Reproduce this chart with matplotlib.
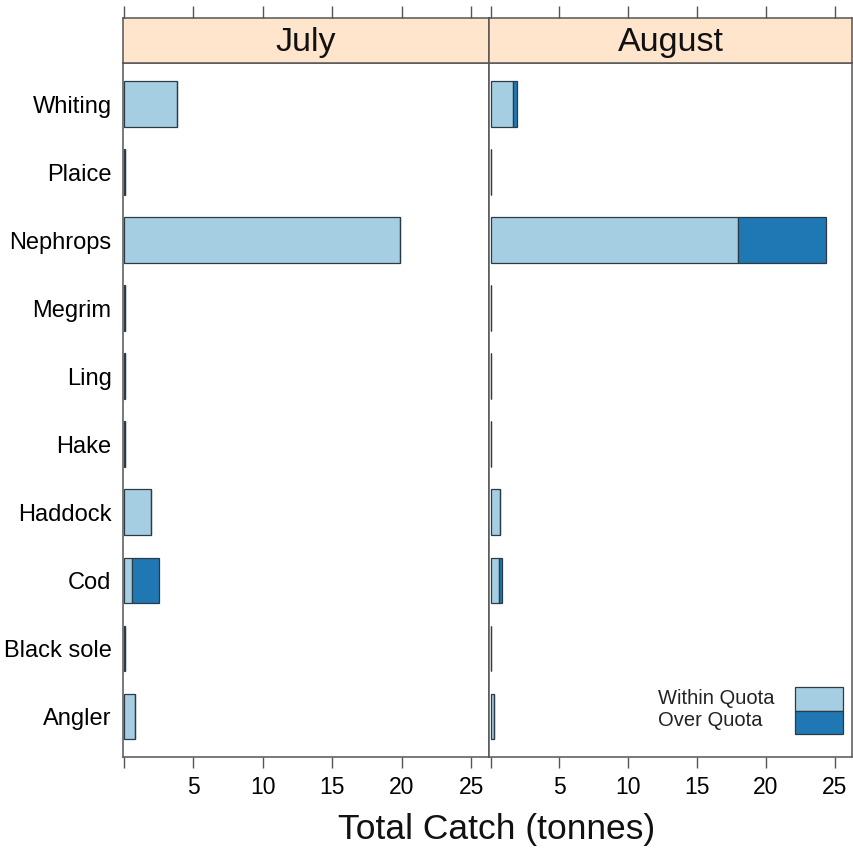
import matplotlib
matplotlib.use("Agg")
import matplotlib.pyplot as plt
from matplotlib.patches import Rectangle

plt.rcParams['font.family'] = ['Liberation Sans', 'DejaVu Sans']

species = ["Angler", "Black sole", "Cod", "Haddock", "Hake", "Ling",
           "Megrim", "Nephrops", "Plaice", "Whiting"]
months = ["July", "August"]
within_july = [0.8, 0.05, 0.6, 1.95, 0.05, 0.05, 0.05, 19.9, 0.05, 3.85]
over_july = [0, 0, 1.95, 0, 0, 0, 0, 0, 0, 0]
within_aug = [0.25, 0.05, 0.65, 0.7, 0.05, 0.05, 0.05, 17.95, 0.05, 1.6]
over_aug = [0, 0, 0.2, 0, 0, 0, 0, 6.45, 0, 0.3]

within_col = "#a6cee3"
over_col = "#1f78b4"
strip_col = "#ffe5cc"
edge_col = "#2b3a45"
axis_col = "#555555"

W, H = 854, 852
fig = plt.figure(figsize=(W / 100, H / 100), dpi=100)

def fa(x0, y0, x1, y1):
    return [x0 / W, 1 - y1 / H, (x1 - x0) / W, (y1 - y0) / H]

panels = [(122.7, 489.3), (489.3, 852.5)]
data = [(within_july, over_july), (within_aug, over_aug)]
ticks = [0, 5, 10, 15, 20, 25]
ticklabels = ["", "5", "10", "15", "20", "25"]
xlim = (-0.09, 26.3)
ypos = list(range(1, len(species) + 1))

for i, ((x0, x1), (wv, ov), m) in enumerate(zip(panels, data, months)):
    ax = fig.add_axes(fa(x0, 63.3, x1, 757))
    ax.barh(ypos, wv, height=2 / 3, color=within_col, edgecolor=edge_col, linewidth=0.9)
    ax.barh(ypos, ov, left=wv, height=2 / 3, color=over_col, edgecolor=edge_col, linewidth=0.9)
    ax.set_xlim(*xlim)
    ax.set_ylim(0.4, len(species) + 0.6)
    ax.set_xticks(ticks)
    ax.set_xticklabels(ticklabels, fontsize=16.5)
    ax.tick_params(axis='x', direction='out', length=8, width=1, color=axis_col, pad=6)
    ax.set_yticks(ypos)
    if i == 0:
        ax.set_yticklabels(species, fontsize=17)
        ax.tick_params(axis='y', length=0, pad=8)
    else:
        ax.set_yticklabels([])
        ax.tick_params(axis='y', length=0)
    for s in ax.spines.values():
        s.set_color(axis_col)
        s.set_linewidth(1.1)

    sx = fig.add_axes(fa(x0, 17.7, x1, 63.3))
    sx.set_facecolor(strip_col)
    sx.set_xlim(*xlim)
    sx.set_ylim(0, 1)
    sx.set_xticks(ticks)
    sx.set_yticks([])
    sx.xaxis.tick_top()
    sx.tick_params(axis='x', direction='out', length=9, width=1, color=axis_col, labeltop=False, labelbottom=False)
    for s in sx.spines.values():
        s.set_color(axis_col)
        s.set_linewidth(1.1)
    sx.text(0.5, 0.45, m, transform=sx.transAxes, ha='center', va='center', fontsize=24.5, color='#111111')

fig.text(497 / W, 1 - 830 / H, "Total Catch (tonnes)", ha='center', va='center', fontsize=25.5, color='#111111')

# legend
fig.text(658 / W, 1 - 699 / H, "Within Quota", ha='left', va='center', fontsize=14.5, color='#222222')
fig.text(658 / W, 1 - 721 / H, "Over Quota", ha='left', va='center', fontsize=14.5, color='#222222')
fig.patches.append(Rectangle((795 / W, 1 - 711 / H), 48 / W, 24 / H, transform=fig.transFigure,
                             facecolor=within_col, edgecolor=edge_col, linewidth=0.9))
fig.patches.append(Rectangle((795 / W, 1 - 734 / H), 48 / W, 23 / H, transform=fig.transFigure,
                             facecolor=over_col, edgecolor=edge_col, linewidth=0.9))

fig.savefig("out.png", dpi=100)
